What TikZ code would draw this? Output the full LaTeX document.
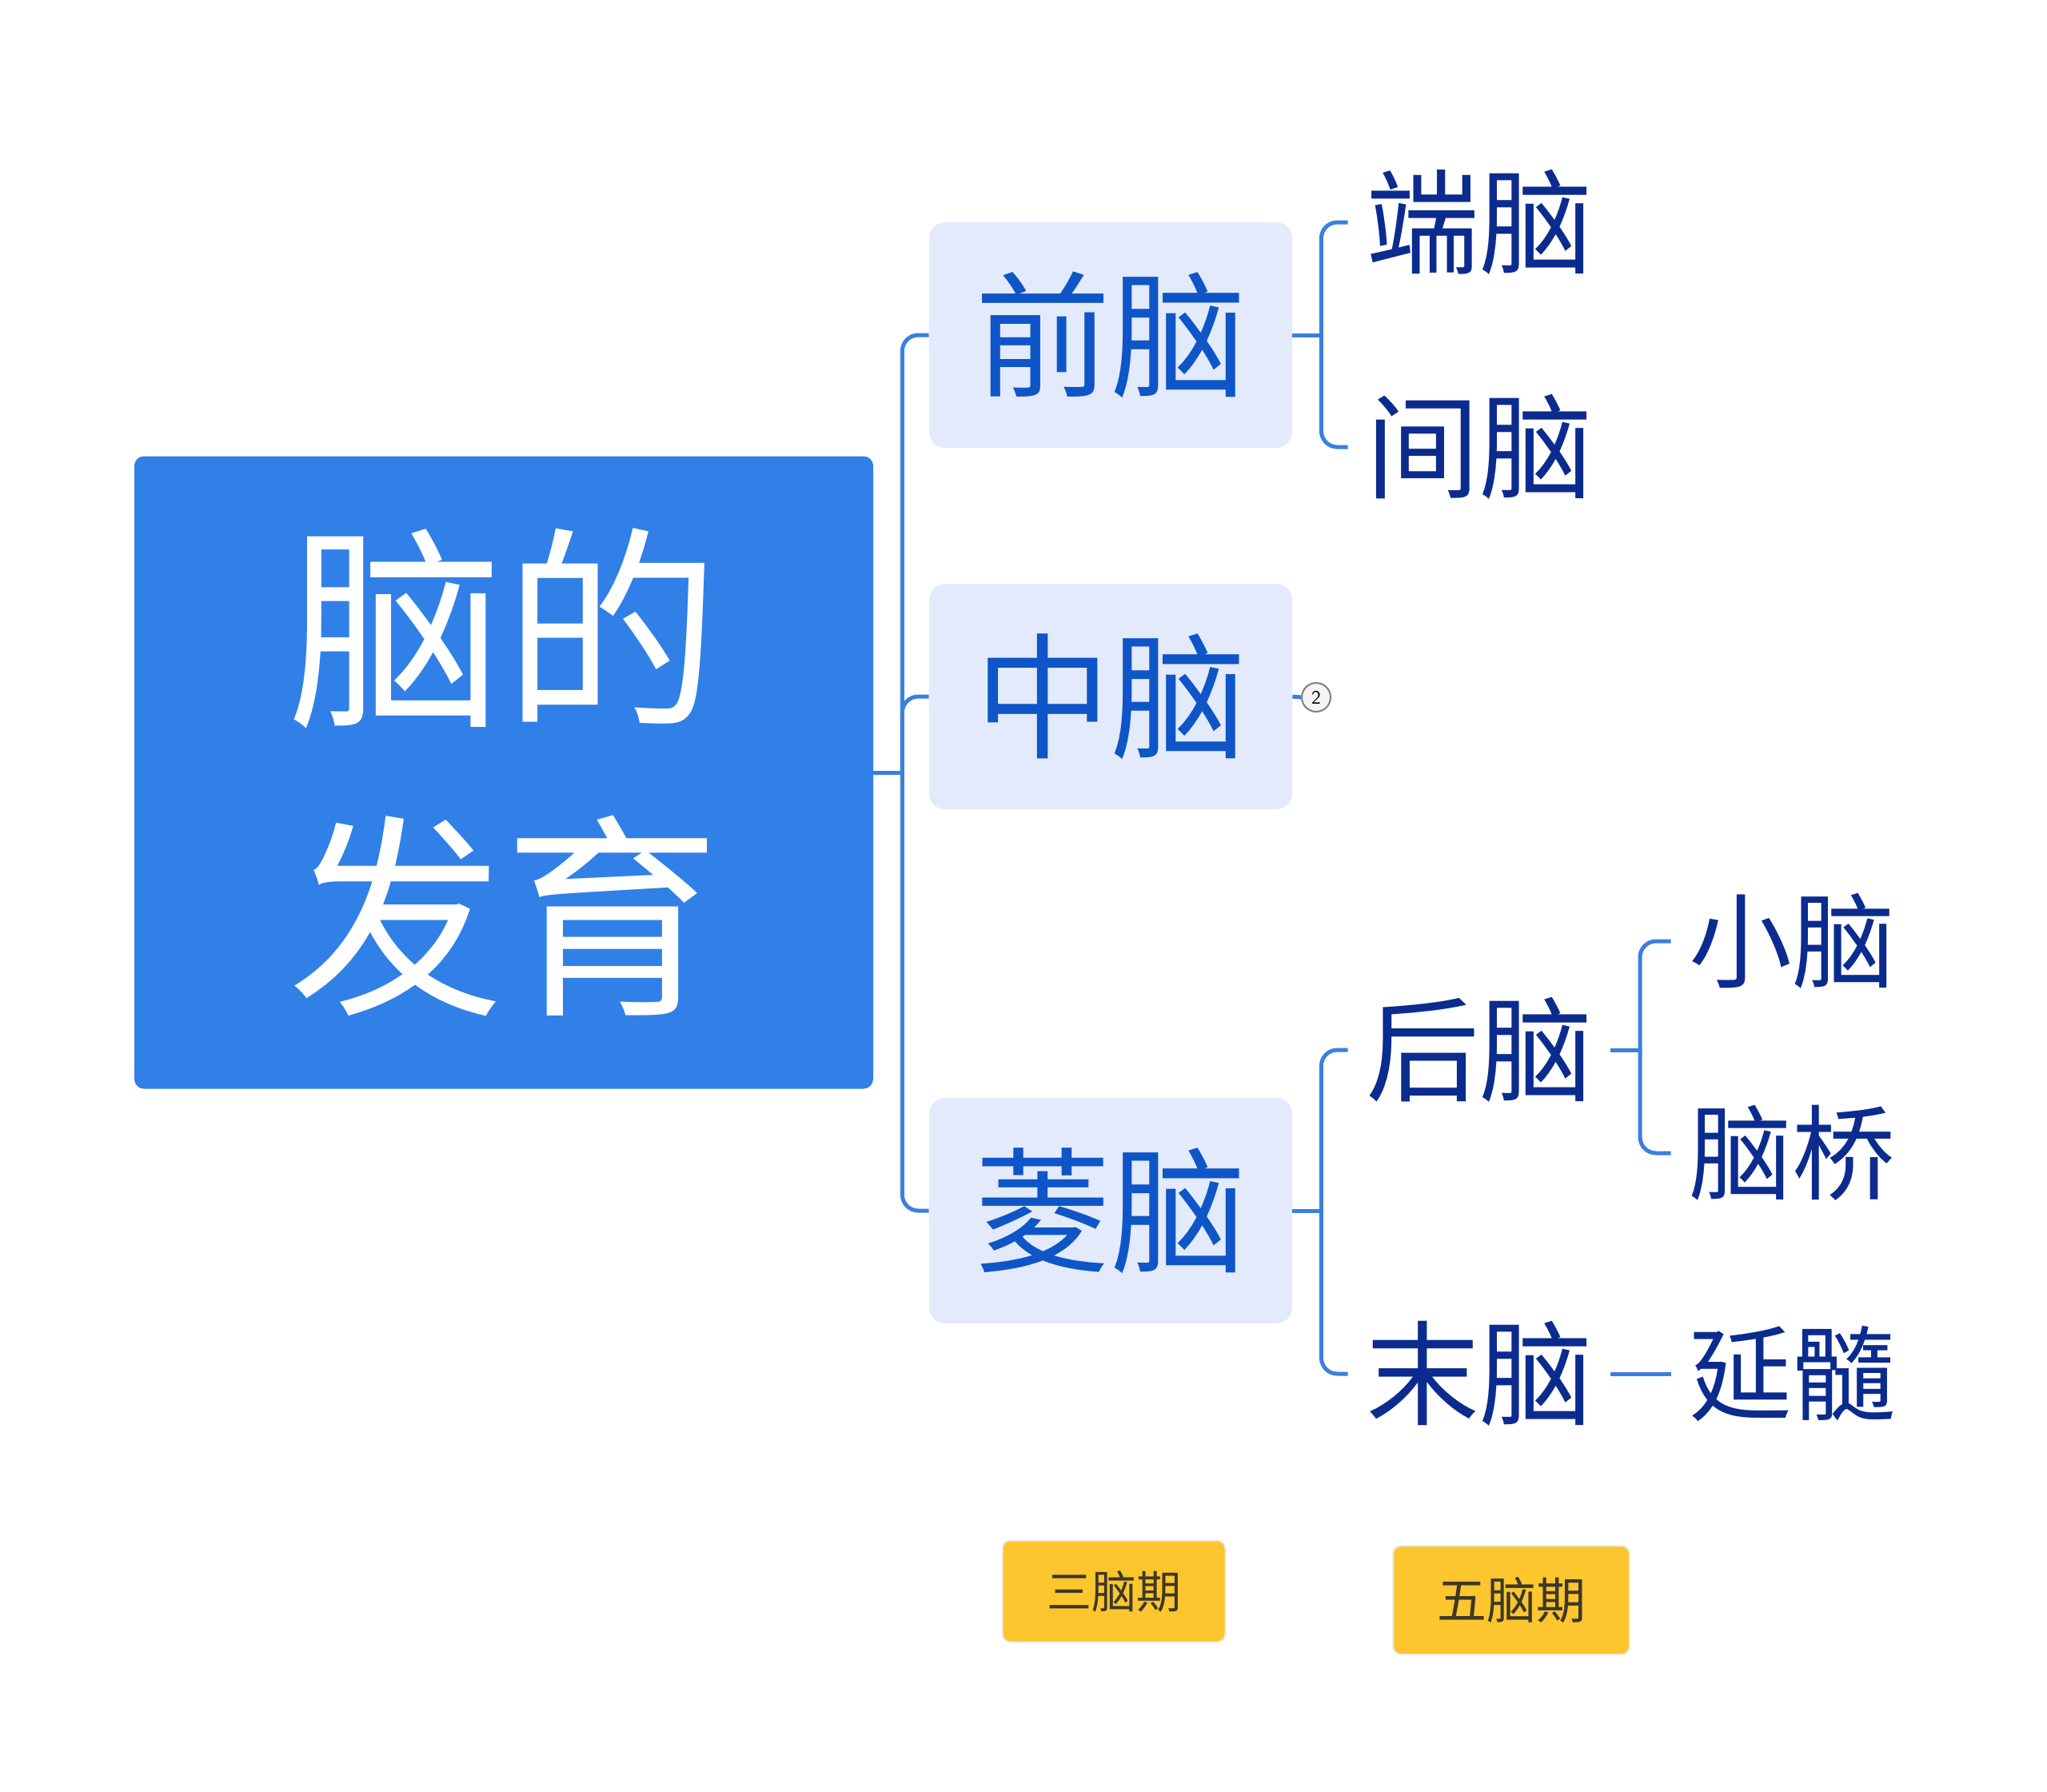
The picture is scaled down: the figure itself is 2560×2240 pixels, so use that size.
\documentclass[tikz,border=0pt]{standalone}
\usepackage{fontspec}
\newfontfamily\cjk{Noto Sans CJK SC}
\usetikzlibrary{positioning}
\definecolor{rootblue}{HTML}{3080E8}
\definecolor{boxblue}{HTML}{E2EAFB}
\definecolor{midblue}{HTML}{0E55C8}
\definecolor{deepblue}{HTML}{0B2B8F}
\definecolor{linkblue}{HTML}{3A80DD}
\definecolor{tagyellow}{HTML}{FDC52E}
\definecolor{tagtext}{HTML}{3A3826}

\begin{document}
\begin{tikzpicture}[x=0.5pt, y=-0.5pt, inner sep=0pt,
    link/.style={draw=linkblue, line width=2.5pt, rounded corners=10pt},
    lvone/.style={fill=boxblue, rounded corners=10pt, minimum width=227pt, minimum height=141pt,
        text=midblue, font=\cjk\fontsize{85}{90}\selectfont},
    lvtwo/.style={text=deepblue, inner xsep=11pt, font=\cjk\fontsize{71}{75}\selectfont},
    lvthree/.style={text=deepblue, inner xsep=11pt, font=\cjk\fontsize{64.5}{70}\selectfont},
    tagbox/.style={fill=tagyellow, draw=black!8, line width=1pt, rounded corners=5pt, text=tagtext}]
    \useasboundingbox (0,0) rectangle (2560,2240);
    \node[fill=rootblue, rounded corners=6pt, minimum width=462pt, minimum height=395.5pt,
        text=white, align=center, font=\cjk\fontsize{135}{180}\selectfont] (root) at (630,966) {脑的\\发育};
    % three brain stages
    \node[lvone] (qian) at (1389,419) {前脑};
    \node[lvone] (zhong) at (1389,871) {中脑};
    \node[lvone] (ling) at (1389,1514) {菱脑};
    % five brain stages
    \node[lvtwo] (duan) at (1850,278) {端脑};
    \node[lvtwo] (jian) at (1850,559) {间脑};
    \node[lvtwo] (hou) at (1850,1313) {后脑};
    \node[lvtwo] (mo) at (1850,1718) {末脑};
    \node[lvthree] (xiao) at (2241,1177) {小脑};
    \node[lvthree] (qiao) at (2241,1442) {脑桥};
    \node[lvthree] (yan) at (2241,1718) {延髓};
    \node[circle, draw=gray, fill=gray!8, line width=1pt, minimum size=18pt,
        font=\sffamily\fontsize{12}{12}\selectfont] (fold) at (1646,872) {2};
    \node[tagbox, minimum width=139.5pt, minimum height=63.5pt, font=\cjk\fontsize{28}{30}\selectfont] (three) at (1393,1990) {三脑期};
    \node[tagbox, minimum width=148pt, minimum height=68pt, font=\cjk\fontsize{31}{33}\selectfont] (five) at (1890,2001) {五脑期};

    \coordinate (t1) at ([xshift=18pt]root.east);
    \coordinate (t2) at ([xshift=18pt]qian.east);
    \coordinate (t3) at ([xshift=18pt]ling.east);
    \coordinate (t4) at (2051,1313);
    \draw[link] (root.east) -- (t1);
    \foreach \n in {qian,zhong,ling} \draw[link] (t1) |- (\n.west);
    \draw[link] (qian.east) -- (t2);
    \foreach \n in {duan,jian} \draw[link] (t2) |- (\n.west);
    \draw[link] (ling.east) -- (t3);
    \foreach \n in {hou,mo} \draw[link] (t3) |- (\n.west);
    \draw[link] (hou.east) -- (t4);
    \foreach \n in {xiao,qiao} \draw[link] (t4) |- (\n.west);
    \draw[link] (mo.east) -- (yan.west);
    \draw[link] (zhong.east) -- (fold.west);
\end{tikzpicture}
\end{document}
